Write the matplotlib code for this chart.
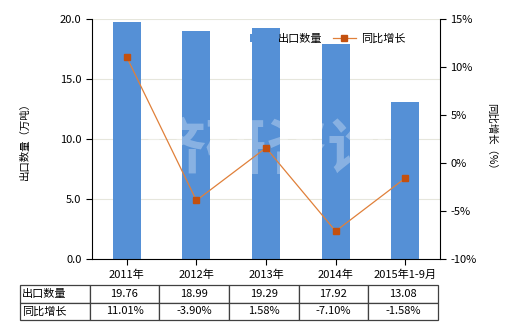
#!/usr/bin/env python3
"""Export volume bars with YoY growth line and data table."""

import matplotlib
matplotlib.use('Agg')
import matplotlib.pyplot as plt
from matplotlib.ticker import FuncFormatter

plt.rcParams['font.family'] = ['Noto Sans CJK SC', 'DejaVu Sans']

years = ['2011年', '2012年', '2013年', '2014年', '2015年1-9月']
volume = [19.76, 18.99, 19.29, 17.92, 13.08]
growth = [11.01, -3.90, 1.58, -7.10, -1.58]

BAR = '#5590d6'
LINE = '#e0803a'
MARK = '#c4500e'

fig = plt.figure(figsize=(5.2, 3.3), dpi=100)
ax = fig.add_axes([92 / 520, 1 - 259 / 330, 348 / 520, 240 / 330])
x = list(range(len(years)))

ax.bar(x, volume, width=0.4, color=BAR, zorder=2, label='出口数量')
ax.set_ylim(0, 20)
ax.set_xlim(-0.5, len(years) - 0.5)
ax.set_yticks([0, 5, 10, 15, 20])
ax.yaxis.set_major_formatter(FuncFormatter(lambda v, p: '%.1f' % v))
ax.grid(axis='y', color='#e6e6dc', linewidth=0.8, zorder=0)
ax.set_xticks(x)
ax.set_xticklabels(years)
ax.tick_params(axis='both', labelsize=8, length=4, width=0.8)
ax.set_ylabel('出口数量（万吨）', fontsize=7.5, labelpad=22)
for s in ['top', 'right']:
    ax.spines[s].set_visible(False)

ax2 = ax.twinx()
ax2.plot(x, growth, color=LINE, linewidth=0.9, marker='s', markersize=5,
         markerfacecolor=MARK, markeredgecolor=MARK, zorder=3, label='同比增长')
ax2.set_ylim(-10, 15)
ax2.set_yticks(range(-10, 16, 5))
ax2.yaxis.set_major_formatter(FuncFormatter(lambda v, p: '%d%%' % v))
ax2.tick_params(axis='y', labelsize=8, length=4, width=0.8)
ax2.set_ylabel('同比增长（%）', fontsize=7.5, rotation=270, labelpad=14)
for s in ['top', 'left', 'bottom']:
    ax2.spines[s].set_visible(False)

# watermark
ax.text(0.5, 0.45, '济研咨询', transform=ax.transAxes, fontsize=44,
        color='white', alpha=0.3, ha='center', va='center',
        fontweight='bold', zorder=4)

h1, l1 = ax.get_legend_handles_labels()
h2, l2 = ax2.get_legend_handles_labels()
ax2.legend(h1 + h2, l1 + l2, loc='upper right', bbox_to_anchor=(0.93, 0.98),
           ncol=2, frameon=False, fontsize=8, handlelength=2.0,
           columnspacing=1.0, handletextpad=0.5)

# data table under the chart
rows = [['出口数量'] + ['%.2f' % v for v in volume],
        ['同比增长'] + ['%.2f%%' % v for v in growth]]
tab = ax.table(cellText=rows, bbox=[-72 / 348, -61 / 240, 418 / 348, 35 / 240],
               cellLoc='center', colWidths=[70] + [70] * len(years))
tab.auto_set_font_size(False)
tab.set_fontsize(8)
for (r, c), cell in tab.get_celld().items():
    cell.set_edgecolor('#404040')
    cell.set_linewidth(0.9)
    if c == 0:
        cell.set_text_props(ha='left')
        cell.PAD = 0.03

fig.savefig('out.png', dpi=100)
